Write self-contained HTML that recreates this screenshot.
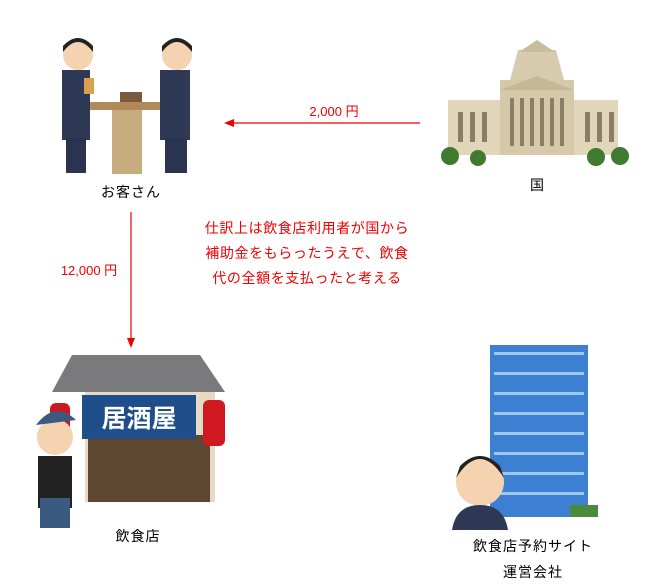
<!DOCTYPE html>
<html><head><meta charset="utf-8"><style>
html,body{margin:0;padding:0;background:#fff;}
svg{display:block}
text{font-family:"Liberation Sans","Noto Sans CJK JP",sans-serif;}
</style></head><body>
<svg width="650" height="586" viewBox="0 0 650 586" xmlns="http://www.w3.org/2000/svg">
<!-- customers -->
<g>
 <rect x="112" y="108" width="30" height="66" fill="#c9ab80"/>
 <rect x="90" y="102" width="72" height="8" fill="#b08a5a"/>
 <rect x="62" y="70" width="28" height="70" fill="#2e3a55"/>
 <rect x="66" y="138" width="20" height="35" fill="#2a3450"/>
 <circle cx="78" cy="55" r="15" fill="#f6d3b0"/>
 <path d="M63 52 Q78 32 93 52 L93 46 Q78 30 63 46Z" fill="#222"/>
 <rect x="160" y="70" width="30" height="70" fill="#2e3a55"/>
 <rect x="165" y="138" width="22" height="35" fill="#2a3450"/>
 <circle cx="177" cy="55" r="15" fill="#f6d3b0"/>
 <path d="M162 52 Q177 32 192 52 L192 46 Q177 30 162 46Z" fill="#222"/>
 <rect x="120" y="92" width="22" height="10" fill="#7a5a3a"/>
 <rect x="84" y="78" width="10" height="16" fill="#d8a050"/>
</g>
<text x="131" y="197" font-size="14" letter-spacing="1" text-anchor="middle" fill="#000">お客さん</text>
<!-- government -->
<g>
 <polygon points="518,50 556,50 564,80 510,80" fill="#d8ccb0"/>
 <polygon points="537,40 555,52 519,52" fill="#c8bc9c"/>
 <rect x="448" y="100" width="170" height="55" fill="#e2d6ba"/>
 <rect x="500" y="80" width="74" height="75" fill="#d6c9aa"/>
 <polygon points="500,90 537,76 574,90" fill="#c4b896"/>
 <g fill="#8a7e66">
  <rect x="458" y="112" width="5" height="30"/><rect x="470" y="112" width="5" height="30"/><rect x="482" y="112" width="5" height="30"/>
  <rect x="510" y="98" width="4" height="48"/><rect x="520" y="98" width="4" height="48"/><rect x="530" y="98" width="4" height="48"/><rect x="540" y="98" width="4" height="48"/><rect x="550" y="98" width="4" height="48"/><rect x="560" y="98" width="4" height="48"/>
  <rect x="585" y="112" width="5" height="30"/><rect x="597" y="112" width="5" height="30"/><rect x="609" y="112" width="5" height="30"/>
 </g>
 <circle cx="450" cy="156" r="9" fill="#3f7a30"/><circle cx="478" cy="158" r="8" fill="#3f7a30"/>
 <circle cx="596" cy="157" r="9" fill="#3f7a30"/><circle cx="620" cy="156" r="9" fill="#3f7a30"/>
</g>
<text x="537" y="190" font-size="14" text-anchor="middle" fill="#000">国</text>
<!-- arrows -->
<line x1="420" y1="123" x2="232" y2="123" stroke="#e00" stroke-width="1.2"/>
<polygon points="224,123 234,119 234,127" fill="#e00"/>
<text x="334" y="116" font-size="13" text-anchor="middle" fill="#e00">2,000 円</text>
<line x1="131" y1="212" x2="131" y2="340" stroke="#e00" stroke-width="1.2"/>
<polygon points="131,348 127,338 135,338" fill="#e00"/>
<text x="89" y="275" font-size="13" text-anchor="middle" fill="#e00">12,000 円</text>
<g font-size="14" letter-spacing="0.6" fill="#e00" text-anchor="middle">
 <text x="307" y="233">仕訳上は飲食店利用者が国から</text>
 <text x="307" y="258">補助金をもらったうえで、飲食</text>
 <text x="307" y="283">代の全額を支払ったと考える</text>
</g>
<!-- izakaya -->
<g>
 <rect x="85" y="390" width="130" height="112" fill="#e6dac4"/>
 <rect x="88" y="435" width="122" height="67" fill="#5e4630"/>
 <polygon points="72,355 200,355 225,392 52,392" fill="#7a7a7c"/>
 <rect x="82" y="395" width="114" height="44" fill="#1f4f8a"/>
 <text x="139" y="427" font-size="25" font-weight="bold" fill="#fff" text-anchor="middle">居酒屋</text>
 <rect x="203" y="400" width="22" height="46" rx="6" fill="#d01820"/>
 <rect x="50" y="403" width="20" height="40" rx="6" fill="#d01820"/>
 <circle cx="55" cy="437" r="18" fill="#f6d3b0"/>
 <path d="M36 425 Q55 400 76 420Z" fill="#3a5a80"/>
 <rect x="38" y="456" width="34" height="52" fill="#222"/>
 <rect x="40" y="498" width="30" height="30" fill="#3a5a80"/>
</g>
<text x="138" y="541" font-size="14" letter-spacing="1" text-anchor="middle" fill="#000">飲食店</text>
<!-- office -->
<g>
 <rect x="490" y="345" width="98" height="172" fill="#3d7fd0"/>
 <g fill="#9cc8f0">
  <rect x="494" y="352" width="90" height="3"/><rect x="494" y="372" width="90" height="3"/><rect x="494" y="392" width="90" height="3"/><rect x="494" y="412" width="90" height="3"/><rect x="494" y="432" width="90" height="3"/><rect x="494" y="452" width="90" height="3"/><rect x="494" y="472" width="90" height="3"/><rect x="494" y="492" width="90" height="3"/>
 </g>
 <rect x="570" y="505" width="28" height="12" fill="#4a8a3a"/>
 <circle cx="480" cy="482" r="24" fill="#f6d3b0"/>
 <path d="M456 478 Q480 440 504 478 L500 466 Q480 446 460 466Z" fill="#222"/>
 <path d="M452 530 Q456 505 480 505 Q504 505 508 530Z" fill="#2e3a55"/>
</g>
<text x="533" y="551" font-size="14" letter-spacing="1" text-anchor="middle" fill="#000">飲食店予約サイト</text>
<text x="533" y="577" font-size="14" letter-spacing="1" text-anchor="middle" fill="#000">運営会社</text>
</svg>
</body></html>
